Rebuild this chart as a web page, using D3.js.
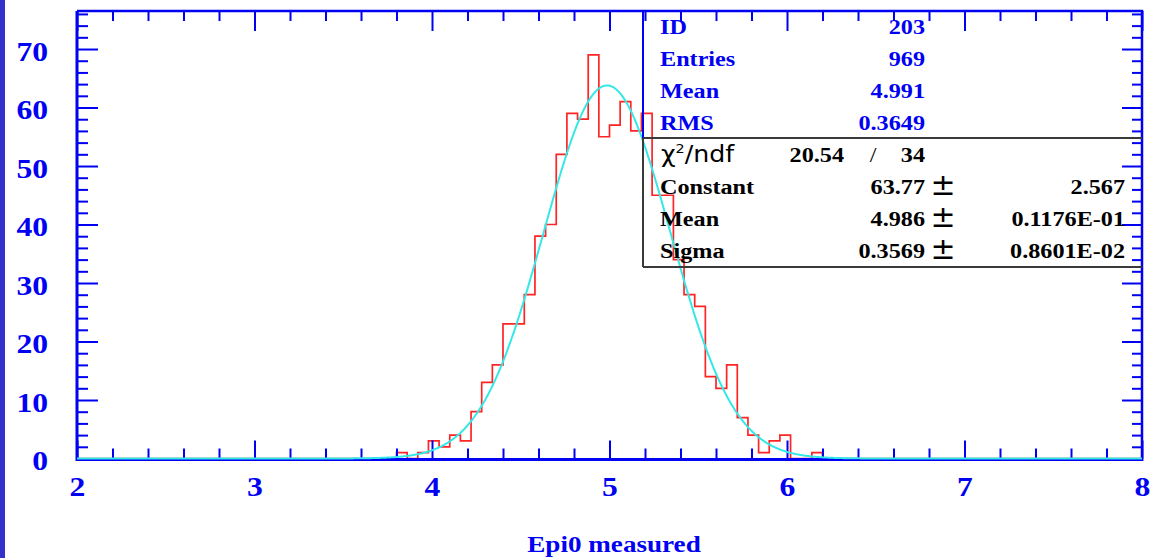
<!DOCTYPE html>
<html><head><meta charset="utf-8">
<script src="https://cdn.jsdelivr.net/npm/d3@7"></script>
<style>html,body{margin:0;padding:0;background:#fff;overflow:hidden}</style>
</head><body>
<svg id="c" width="1153" height="558"></svg>
<script>
// ---- data ----
const binLow = 3.80;
const binWidth = 0.06;
const counts = [1,0,1,3,2,4,3,8,13,16,
                23,23,28,38,40,52,59,58,69,55,
                57,61,56,59,45,45,34,28,26,14,
                12,16,7,4,1,3,4,0,0,1];
const xTickLabels = [2,3,4,5,6,7,8];
const yTickLabels = [0,10,20,30,40,50,60,70];
const xTitle = "Epi0 measured";
const statLabels = ["ID","Entries","Mean","RMS"];
const statValues = ["203","969","4.991","0.3649"];
const chi2Value = "20.54";
const ndfValue = "34";
const fitLabels = ["Constant","Mean","Sigma"];
const fitValues = [63.77, 4.986, 0.3569];
const fitValueText = ["63.77","4.986","0.3569"];
const fitErrors = ["2.567","0.1176E-01","0.8601E-02"];

// ---- layout ----
const L = 77, R = 1142, T = 11, B = 458.5;
const BLUE = "#0000f2", RED = "#ff2424", CYAN = "#34e8e8", GREY = "#3a3a3a";
const SERIF = "'Liberation Serif','Times New Roman',serif";
const svg = d3.select("#c");

svg.append("rect").attr("x",0).attr("y",0).attr("width",5).attr("height",558).attr("fill","#3232c8");

const x = d3.scaleLinear().domain([2, 8]).range([L, R]);
const y = d3.scaleLinear().domain([0, 76.5]).range([B, T]);

// ---- histogram outline ----
const pts = [[2, 0], [binLow, 0]];
counts.forEach((c, i) => {
  pts.push([binLow + i * binWidth, c]);
  pts.push([binLow + (i + 1) * binWidth, c]);
});
pts.push([binLow + counts.length * binWidth, 0], [8, 0]);
svg.append("path")
  .attr("d", d3.line().x(d => x(d[0])).y(d => y(d[1]))(pts))
  .attr("fill", "none").attr("stroke", RED).attr("stroke-width", 1.7);

// ---- axes (ticks inward) ----
const xMinor = d3.range(2, 8.0001, 0.2).filter(v => Math.abs(v - Math.round(v)) > 1e-6);
const yMinor = d3.range(0, 76.6, 2).filter(v => v % 10 !== 0);

function styleAxis(g) {
  g.select(".domain").remove();
  g.selectAll("line").attr("stroke", BLUE).attr("stroke-width", 2);
}
// bottom
const gxb = svg.append("g").attr("transform", `translate(0,${B})`)
  .call(d3.axisBottom(x).tickValues(xTickLabels).tickSize(-18).tickFormat(d3.format("d")));
styleAxis(gxb);
gxb.selectAll("text")
  .attr("y", null).attr("dy", null)
  .attr("transform", "translate(0,37) scale(1.13,1)")
  .attr("fill", BLUE).attr("font-family", SERIF).attr("font-weight", "bold").attr("font-size", 28)
  .attr("text-anchor", "middle");
styleAxis(svg.append("g").attr("transform", `translate(0,${B})`)
  .call(d3.axisBottom(x).tickValues(xMinor).tickSize(-10).tickFormat("")));
// top
styleAxis(svg.append("g").attr("transform", `translate(0,${T})`)
  .call(d3.axisTop(x).tickValues(xTickLabels).tickSize(-20).tickFormat("")));
styleAxis(svg.append("g").attr("transform", `translate(0,${T})`)
  .call(d3.axisTop(x).tickValues(xMinor).tickSize(-10).tickFormat("")));
// left
const gyl = svg.append("g").attr("transform", `translate(${L},0)`)
  .call(d3.axisLeft(y).tickValues(yTickLabels).tickSize(-21).tickFormat(d3.format("d")));
styleAxis(gyl);
gyl.selectAll("text")
  .attr("x", null).attr("dy", null)
  .attr("transform", "translate(-29,11) scale(1.13,1)")
  .attr("fill", BLUE).attr("font-family", SERIF).attr("font-weight", "bold").attr("font-size", 28)
  .attr("text-anchor", "end");
styleAxis(svg.append("g").attr("transform", `translate(${L},0)`)
  .call(d3.axisLeft(y).tickValues(yMinor).tickSize(-11).tickFormat("")));
// right
styleAxis(svg.append("g").attr("transform", `translate(${R},0)`)
  .call(d3.axisRight(y).tickValues(yTickLabels).tickSize(-20).tickFormat("")));
styleAxis(svg.append("g").attr("transform", `translate(${R},0)`)
  .call(d3.axisRight(y).tickValues(yMinor).tickSize(-10).tickFormat("")));

// frame
const fr = svg.append("g").attr("stroke", BLUE).attr("fill", "none");
fr.append("line").attr("x1", L).attr("x2", L).attr("y1", T).attr("y2", B + 2.5).attr("stroke-width", 3);
fr.append("line").attr("x1", L).attr("x2", R + 1.2).attr("y1", B + 1).attr("y2", B + 1).attr("stroke-width", 3);
fr.append("line").attr("x1", L).attr("x2", R + 1.2).attr("y1", T).attr("y2", T).attr("stroke-width", 2.5);
fr.append("line").attr("x1", R).attr("x2", R).attr("y1", T).attr("y2", B + 2.5).attr("stroke-width", 2.5);

// ---- fitted gaussian (from displayed fit parameters) ----
const [cst, mu, sg] = fitValues;
const gx = d3.range(2, 8.0001, 0.005);
svg.append("path")
  .attr("d", d3.line().x(v => x(v)).y(v => y(cst * Math.exp(-0.5 * ((v - mu) / sg) ** 2)))(gx))
  .attr("fill", "none").attr("stroke", CYAN).attr("stroke-width", 2);

// ---- statistics box ----
const bx = 643, bMid = 138, bBot = 267;
svg.append("line").attr("x1", bx).attr("x2", bx).attr("y1", T).attr("y2", bMid).attr("stroke", BLUE).attr("stroke-width", 2);
const gb = svg.append("g").attr("stroke", GREY).attr("stroke-width", 2).attr("fill", "none");
gb.append("line").attr("x1", bx).attr("x2", R).attr("y1", bMid).attr("y2", bMid);
gb.append("line").attr("x1", bx).attr("x2", bx).attr("y1", bMid).attr("y2", bBot);
gb.append("line").attr("x1", bx).attr("x2", R).attr("y1", bBot).attr("y2", bBot);

function txt(s, xx, yy, anchor, opts = {}) {
  return svg.append("text")
    .attr("transform", `translate(${xx},${yy}) scale(${opts.sx ?? 1.1},1)`)
    .attr("text-anchor", anchor)
    .attr("font-family", opts.family ?? SERIF)
    .attr("font-weight", opts.weight ?? "bold")
    .attr("font-size", opts.size ?? 22)
    .attr("fill", opts.fill ?? "#000")
    .text(s);
}
const rowY = i => 34 + 32 * i;
statLabels.forEach((s, i) => {
  txt(s, 660, rowY(i), "start", { fill: BLUE });
  txt(statValues[i], 925, rowY(i), "end", { fill: BLUE });
});
// chi2 row
const chi = svg.append("text")
  .attr("transform", `translate(661,${rowY(4)}) scale(1.1,1)`)
  .attr("font-family", "'DejaVu Sans',sans-serif").attr("font-size", 23).attr("fill", "#000");
chi.append("tspan").text("χ");
chi.append("tspan").attr("font-size", 13).attr("dy", -9).text("2");
chi.append("tspan").attr("dy", 9).text("/ndf");
txt(chi2Value, 844, rowY(4), "end");
txt("/", 873, rowY(4), "middle", { weight: "normal" });
txt(ndfValue, 925, rowY(4), "end");
fitLabels.forEach((s, i) => {
  const yy = rowY(5 + i);
  txt(s, 660, yy, "start");
  txt(fitValueText[i], 925, yy, "end");
  txt("±", 943, yy + 1, "middle", { weight: "normal", size: 30, family: "'DejaVu Sans',sans-serif", sx: 1 });
  txt(fitErrors[i], 1125, yy, "end");
});

// x title
txt(xTitle, 614, 552, "middle", { fill: BLUE, size: 24, sx: 1.13 });
</script>
</body></html>
